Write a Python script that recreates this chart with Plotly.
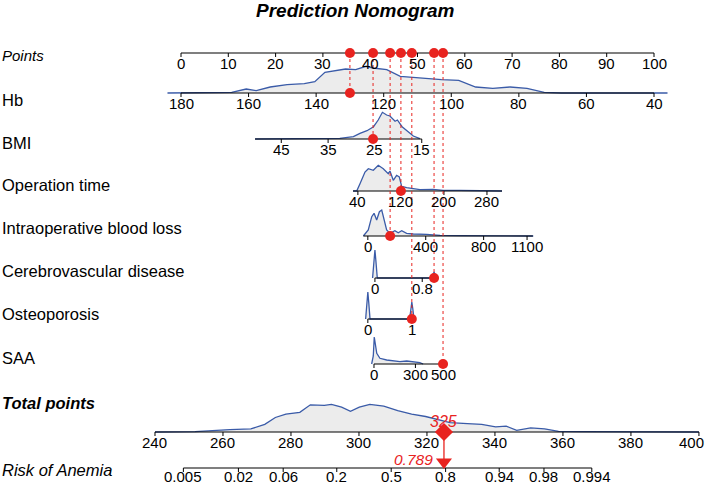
import numpy as np
import plotly.graph_objects as go

# ---------------- data ----------------
points_ticks = [0, 10, 20, 30, 40, 50, 60, 70, 80, 90, 100]
hb_ticks = [180, 160, 140, 120, 100, 80, 60, 40]
bmi_ticks = [45, 35, 25, 15]
op_ticks = [40, 120, 200, 280]
blood_ticks = [0, 400, 800, 1100]
cereb_ticks = [0, 0.8]
osteo_ticks = [0, 1]
saa_ticks = [0, 300, 500]
total_ticks = [240, 260, 280, 300, 320, 340, 360, 380, 400]
risk_ticks = [0.005, 0.02, 0.06, 0.2, 0.5, 0.8, 0.94, 0.98, 0.994]

# points = intercept + slope * value (model scoring)
coef = {
    "Hb": (128.571, -0.714286),
    "BMI": (65.75, -0.99),
    "Operation time": (32.85, 0.1137),
    "Intraoperative blood loss": (39.5, 0.0306),
    "Cerebrovascular disease": (41.0, 12.5),
    "Osteoporosis": (39.5, 9.3),
    "SAA": (40.8, 0.0292),
}
# axis extents (variable units)
extent = {
    "Hb": (40, 180),
    "BMI": (15, 50.6),
    "Operation time": (31, 308),
    "Intraoperative blood loss": (-30, 1140),
    "Cerebrovascular disease": (0, 1),
    "Osteoporosis": (0, 1),
    "SAA": (0, 500),
}
# patient values (red dots)
patient = {
    "Hb": 130,
    "BMI": 25.4,
    "Operation time": 120,
    "Intraoperative blood loss": 154,
    "Cerebrovascular disease": 1,
    "Osteoporosis": 1,
    "SAA": 500,
}
total_points_value = 325
risk_value = 0.789

# density curves (value, height)
hb_dens_x = [184, 165, 160.7, 157.7, 153.6, 148.6, 143.5, 140.4, 137.4, 131.3, 128.3, 125.2, 123.2,
             119.1, 115.1, 112.1, 107, 102.9, 97.8, 92.8, 87.7, 82.6, 77.6, 72.5, 67.4, 36]
hb_dens_h = [0, 0.7, 4, 2.3, 6, 8.3, 9.3, 11.3, 20.7, 24, 23.3, 26.7, 25,
             23.3, 16.7, 15.7, 14, 13.3, 12.7, 6, 4.7, 6, 4.7, 0.7, 0, 0]
bmi_dens_x = [50.6, 36, 32.5, 29.6, 28.2, 26.7, 25.3, 24.3, 23.4, 22.5, 21.8, 20.7, 20.2, 19.2, 17.8, 16.8, 15.4]
bmi_dens_h = [0, 0.2, 0.7, 2.3, 5.7, 8.3, 12.3, 19, 26.7, 24, 23, 17.7, 19, 12.3, 7.3, 3, 0.3]
op_dens_x = [31, 37.8, 43.9, 53.2, 59.4, 68.7, 77.9, 87.2, 96.5, 99.6, 105.8, 112, 117, 121.4,
             130.6, 143, 155.4, 180, 198.8, 230, 270, 308]
op_dens_h = [0, 0, 7.3, 19, 22.3, 20.7, 25.7, 22.3, 17.3, 20, 10.7, 15.7, 14, 4.7,
             3.3, 2.3, 1.3, 1.7, 0.7, 0.7, 0.4, 0]
blood_dens_x = [-31, 3, 27, 43, 61, 80, 96, 112, 130, 153, 187, 210, 234, 268, 314, 406, 499, 637, 1143]
blood_dens_h = [0, 6, 19.3, 22.7, 16, 24.3, 26, 16, 6, 2.7, 5.3, 3.3, 5.3, 2.7, 2, 1.7, 0.7, 0.3, 0]
cereb_dens_x = [-0.04, -0.015, 0, 0.015, 0.04, 0.96, 1, 1.04]
cereb_dens_h = [0, 18, 28, 18, 0, 0, 6, 0]
osteo_dens_x = [-0.05, -0.02, 0, 0.02, 0.05, 0.95, 0.98, 1, 1.02, 1.05]
osteo_dens_h = [0, 17, 27, 17, 0, 0, 11, 17, 11, 0]
saa_dens_x = [-17, -5, 2, 12, 20, 43, 92, 188, 237, 332, 356]
saa_dens_h = [0, 8, 27, 16, 10.7, 5.7, 4, 2.3, 3, 1.3, 0]
total_dens_x = [240, 251.8, 262, 268.2, 272.3, 275.4, 278.5, 282.6, 285.7, 289.8, 291.9, 294.9, 297.5,
                300.1, 303.2, 307.3, 311.4, 315.5, 319.6, 323.7, 326.8, 331.9, 336.1, 340.2, 343.3,
                346.4, 350.5, 354.6, 358.7, 364.9, 385.4, 400]
total_dens_h = [0, 0.3, 2.4, 3.1, 7.6, 14.5, 17.9, 19.7, 27.2, 26.6, 27.6, 24.8, 20.7,
                24.8, 27.6, 25.9, 21.4, 17.9, 15.5, 12.1, 9.3, 8.3, 7.6, 5.2, 5.9,
                1.7, 4.1, 3.1, 0.7, 0.3, 0.3, 0]

# total-points and risk scales
TOT_X0, TOT_SLOPE = -5.5, 0.71875       # total points -> points-axis units
RISK_T0, RISK_B = 309.48, 0.0866        # logistic link of total points

# ---------------- layout constants ----------------
W, H = 708, 482
PX0, PXPP = 181.0, 4.73
RED = "#e8231f"
BLUE = "#3a5ba8"
FILL = "#ececec"
FONT = "Liberation Sans, Arial, Helvetica, sans-serif"
LBL_SIZE = 16.5

rows = [
    ("Hb", 93, 100, hb_ticks, hb_dens_x, hb_dens_h),
    ("BMI", 139, 143, bmi_ticks, bmi_dens_x, bmi_dens_h),
    ("Operation time", 191, 185, op_ticks, op_dens_x, op_dens_h),
    ("Intraoperative blood loss", 236, 228, blood_ticks, blood_dens_x, blood_dens_h),
    ("Cerebrovascular disease", 278, 271, cereb_ticks, cereb_dens_x, cereb_dens_h),
    ("Osteoporosis", 319, 314, osteo_ticks, osteo_dens_x, osteo_dens_h),
    ("SAA", 364, 358, saa_ticks, saa_dens_x, saa_dens_h),
]
Y_POINTS, Y_POINTS_LBL = 53, 55
Y_TOTAL, Y_TOTAL_LBL = 432, 403
Y_RISK, Y_RISK_LBL = 468, 470


def to_pts(name, v):
    a, b = coef[name]
    return a + b * np.asarray(v, dtype=float)


def tot_x(t):
    return TOT_X0 + (np.asarray(t, dtype=float) - 240) * TOT_SLOPE


def risk_x(p):
    p = np.asarray(p, dtype=float)
    t = RISK_T0 + np.log(p / (1 - p)) / RISK_B
    return tot_x(t)


fig = go.Figure()
annotations = []


def txt(x, y, s, size=15, color="black", xanchor="center", xref="x", xshift=0):
    annotations.append(dict(x=x, y=y, xref=xref, yref="y", text=s, showarrow=False,
                            font=dict(family=FONT, size=size, color=color),
                            xanchor=xanchor, yanchor="middle", xshift=xshift))


def density(xs, base, hs):
    xs = list(np.asarray(xs, dtype=float))
    ys = [base - h for h in hs]
    fig.add_trace(go.Scatter(x=xs + xs[::-1], y=ys + [base] * len(xs), fill="toself",
                             fillcolor=FILL, line=dict(width=0), mode="lines",
                             hoverinfo="skip"))
    return xs, ys


def axis(xs_ticks, labels, base, x_lo, x_hi, tick_len=4, lbl_off=10, last_shift=0):
    fig.add_trace(go.Scatter(x=[x_lo, x_hi], y=[base, base], mode="lines",
                             line=dict(color="black", width=1.2), hoverinfo="skip"))
    tx, ty = [], []
    for x in xs_ticks:
        tx += [x, x, None]
        ty += [base, base + tick_len, None]
    fig.add_trace(go.Scatter(x=tx, y=ty, mode="lines", line=dict(color="black", width=1),
                             hoverinfo="skip"))
    n = len(xs_ticks)
    for i, (x, l) in enumerate(zip(xs_ticks, labels)):
        txt(x, base + lbl_off, l, xshift=last_shift if i == n - 1 else 0)


def blue_line(xs, ys):
    fig.add_trace(go.Scatter(x=xs, y=ys, mode="lines", line=dict(color=BLUE, width=1.3),
                             hoverinfo="skip"))


# title
txt((355 - PX0) / PXPP, 10, "<b><i>Prediction Nomogram</i></b>", size=19)

# points axis
axis(points_ticks, [f"{v:g}" for v in points_ticks], Y_POINTS, 0, 100)
txt(0, Y_POINTS_LBL, "<i>Points</i>", size=15, xanchor="left", xref="paper")

# variable rows
dot_x = []
for name, base, lbl_y, ticks, dx, dh in rows:
    px = to_pts(name, dx)
    xs, ys = density(px, base, dh)
    blue_line(xs, ys)
    lo, hi = to_pts(name, extent[name])
    axis(list(to_pts(name, ticks)), [f"{v:g}" for v in ticks], base, min(lo, hi), max(lo, hi))
    txt(0, lbl_y, name, size=LBL_SIZE, xanchor="left", xref="paper")
    dot_x.append((float(to_pts(name, patient[name])), base))

# dotted connectors and red dots
for x, base in dot_x:
    fig.add_trace(go.Scatter(x=[x, x], y=[Y_POINTS, base], mode="lines",
                             line=dict(color=RED, width=1, dash="dot"), hoverinfo="skip"))
fig.add_trace(go.Scatter(x=[d[0] for d in dot_x], y=[Y_POINTS] * len(dot_x), mode="markers",
                         marker=dict(color=RED, size=10), hoverinfo="skip"))
fig.add_trace(go.Scatter(x=[d[0] for d in dot_x], y=[d[1] for d in dot_x], mode="markers",
                         marker=dict(color=RED, size=10), hoverinfo="skip"))

# total points row
tx = tot_x(total_dens_x)
xs, ys = density(tx, Y_TOTAL, total_dens_h)
blue_line(xs, ys)
axis(list(tot_x(total_ticks)), [f"{v:g}" for v in total_ticks], Y_TOTAL,
     float(tot_x(240)), float(tot_x(400)), last_shift=-7)
txt(0, Y_TOTAL_LBL, "<b><i>Total points</i></b>", size=LBL_SIZE, xanchor="left", xref="paper")

# risk row
rx = list(risk_x(risk_ticks))
axis(rx, [f"{v:g}" for v in risk_ticks], Y_RISK, rx[0], rx[-1], tick_len=4, lbl_off=8)
txt(0, Y_RISK_LBL, "<i>Risk of Anemia</i>", size=LBL_SIZE, xanchor="left", xref="paper")

# prediction marks
xt = float(tot_x(total_points_value))
fig.add_trace(go.Scatter(x=[xt, xt], y=[Y_TOTAL, Y_RISK - 8], mode="lines",
                         line=dict(color=RED, width=1.3), hoverinfo="skip"))
fig.add_trace(go.Scatter(x=[xt], y=[Y_TOTAL], mode="markers",
                         marker=dict(symbol="diamond", color=RED, size=14), hoverinfo="skip"))
fig.add_trace(go.Scatter(x=[xt], y=[Y_RISK - 6], mode="markers",
                         marker=dict(symbol="triangle-down", color=RED, size=14), hoverinfo="skip"))
txt(xt, Y_TOTAL - 11, f"<i>{total_points_value}</i>", size=16, color=RED)
txt(xt, Y_RISK - 9, f"<i>{risk_value}</i>", size=15.5, color=RED, xanchor="right", xshift=-9)

fig.update_layout(
    width=W, height=H, margin=dict(l=0, r=0, t=0, b=0),
    paper_bgcolor="white", plot_bgcolor="white", showlegend=False,
    annotations=annotations,
    xaxis=dict(range=[-PX0 / PXPP, (W - PX0) / PXPP], visible=False, fixedrange=True),
    yaxis=dict(range=[H, 0], visible=False, fixedrange=True),
)
fig.write_html("out.html", config={"displayModeBar": False},
               post_script="document.body.style.margin='0px';document.body.style.overflow='hidden';")
